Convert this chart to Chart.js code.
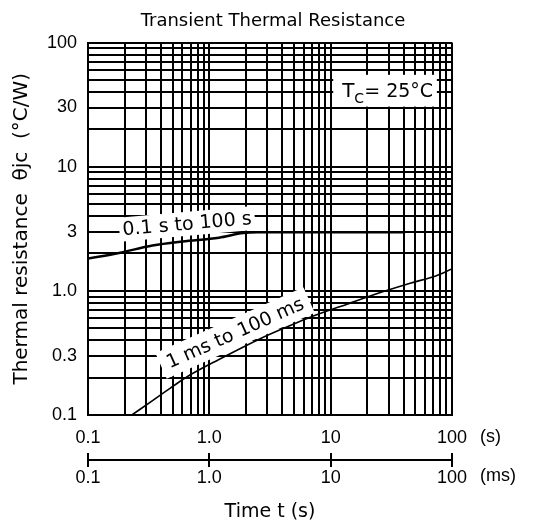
<!DOCTYPE html>
<html>
<head>
<meta charset="utf-8">
<script src="https://cdn.jsdelivr.net/npm/chart.js@4/dist/chart.umd.min.js"></script>
<style>
  html, body { margin: 0; padding: 0; background: #ffffff; }
  #wrap { width: 546px; height: 531px; position: relative; }
</style>
</head>
<body>
<div id="wrap"><canvas id="c" width="546" height="531"></canvas></div>
<script>
// ---- data ----
const longPulseTime = [0.1, 0.18, 0.34, 0.6, 1.2, 1.9, 2.5, 40];          // s
const longPulseZth  = [1.82, 2.02, 2.32, 2.5, 2.68, 2.92, 2.96, 2.96];     // °C/W
const shortPulseTime = [0.23, 0.345, 0.474, 0.671, 1.2, 2.6, 4.1, 6.4, 14.4, 27.2, 45.2, 70.3, 100]; // ms
const shortPulseZth  = [0.1, 0.132, 0.164, 0.206, 0.28, 0.41, 0.5, 0.6, 0.796, 0.987, 1.154, 1.30, 1.5];

const xLabelValues = [0.1, 1, 10, 100];
const xTickLabels  = ['0.1', '1.0', '10', '100'];
const x2TickLabels = ['0.1', '1.0', '10', '100'];
const yLabelValues = [0.1, 0.3, 1, 3, 10, 30, 100];
const yTickLabels  = ['0.1', '0.3', '1.0', '3', '10', '30', '100'];

const titleText = 'Transient Thermal Resistance';
const xTitleText = 'Time t (s)';
const yTitleText = 'Thermal resistance  θjc  (°C/W)';
const longLabelText = '0.1 s to 100 s';
const shortLabelText = '1 ms to 100 ms';

// log grid positions (1..9 per decade)
function logGrid(minExp, maxExp) {
  const out = [];
  for (let e = minExp; e < maxExp; e++) {
    for (let m = 1; m <= 9; m++) out.push(+(m * Math.pow(10, e)).toPrecision(3));
  }
  out.push(Math.pow(10, maxExp));
  return out;
}
const xGrid = logGrid(-1, 2);
const yGrid = logGrid(-1, 2);

function labelFor(values, labels) {
  return function (v) {
    for (let i = 0; i < values.length; i++) {
      if (Math.abs(values[i] - v) / values[i] < 1e-6) return labels[i];
    }
    return '';
  };
}

const tickFamily = '"Liberation Sans"';
const tickFont = { family: 'Liberation Sans', size: 18 };
const txtFont = 'DejaVu Sans';

const overlayPlugin = {
  id: 'overlay',
  afterDatasetsDraw(chart) {
    const { ctx, scales } = chart;
    const xs = scales.x, ys = scales.y;
    ctx.save();
    function rotLabel(t, z, text, deg, w, h) {
      const cx = xs.getPixelForValue(t), cy = ys.getPixelForValue(z);
      ctx.save();
      ctx.translate(cx, cy);
      ctx.rotate(deg * Math.PI / 180);
      ctx.fillStyle = '#ffffff';
      ctx.fillRect(-w / 2, -h / 2, w, h);
      ctx.fillStyle = '#000000';
      ctx.font = '19px "' + txtFont + '"';
      ctx.textAlign = 'center';
      ctx.textBaseline = 'middle';
      ctx.fillText(text, 0, 1);
      ctx.restore();
    }
    rotLabel(0.655, 3.47, longLabelText, -5, 136, 24);
    rotLabel(1.63, 0.458, shortLabelText, -24, 162, 28);

    // Tc box
    const bx0 = xs.getPixelForValue(10.5), bx1 = xs.getPixelForValue(75);
    const by0 = ys.getPixelForValue(55), by1 = ys.getPixelForValue(30.5);
    ctx.fillStyle = '#ffffff';
    ctx.fillRect(bx0, by0, bx1 - bx0, by1 - by0);
    ctx.fillStyle = '#000000';
    ctx.textAlign = 'left';
    ctx.textBaseline = 'alphabetic';
    ctx.font = '20px "' + txtFont + '"';
    ctx.fillText('T', bx0 + 9, by0 + 22);
    ctx.font = '14px "' + txtFont + '"';
    ctx.fillText('C', bx0 + 21, by0 + 28);
    ctx.font = '19px "' + txtFont + '"';
    ctx.fillText('= 25°C', bx0 + 31, by0 + 22);
    ctx.restore();
  },
  afterDraw(chart) {
    const { ctx, scales } = chart;
    const xs = scales.x, x2 = scales.x2;
    ctx.save();
    ctx.strokeStyle = '#000000';
    ctx.lineWidth = 2;
    xLabelValues.forEach(v => {
      const px = Math.round(x2.getPixelForValue(v));
      ctx.beginPath();
      ctx.moveTo(px, x2.top - 7);
      ctx.lineTo(px, x2.top);
      ctx.stroke();
    });
    ctx.fillStyle = '#000000';
    ctx.font = '18px ' + tickFamily;
    ctx.textAlign = 'left';
    ctx.textBaseline = 'middle';
    ctx.fillText('(s)', xs.right + 28, 437);
    ctx.fillText('(ms)', xs.right + 28, 476);
    ctx.restore();
  }
};

new Chart(document.getElementById('c'), {
  type: 'line',
  data: {
    datasets: [
      {
        label: longLabelText,
        data: longPulseTime.map((t, i) => ({ x: t, y: longPulseZth[i] })),
        borderColor: '#000000',
        borderWidth: 2.5,
        pointRadius: 0,
        cubicInterpolationMode: 'monotone',
        fill: false
      },
      {
        label: shortLabelText,
        data: shortPulseTime.map((t, i) => ({ x: t, y: shortPulseZth[i] })),
        borderColor: '#000000',
        borderWidth: 1.6,
        pointRadius: 0,
        cubicInterpolationMode: 'monotone',
        fill: false
      }
    ]
  },
  options: {
    responsive: false,
    animation: false,
    devicePixelRatio: 1,
    layout: { padding: 0 },
    plugins: {
      legend: { display: false },
      tooltip: { enabled: false },
      title: {
        display: true,
        text: titleText,
        color: '#000000',
        font: { family: txtFont, size: 18, weight: 'normal' },
        padding: { top: 11, bottom: 10 }
      }
    },
    scales: {
      x: {
        type: 'logarithmic',
        position: 'bottom',
        weight: 0,
        min: 0.1,
        max: 100,
        afterBuildTicks: s => { s.ticks = xGrid.map(v => ({ value: v })); },
        afterFit: s => { s.height = 45; },
        ticks: {
          autoSkip: false,
          maxRotation: 0,
          padding: 12,
          color: '#000000',
          font: tickFont,
          callback: labelFor(xLabelValues, xTickLabels)
        },
        grid: { color: '#000000', lineWidth: 2, drawTicks: false },
        border: { color: '#000000', width: 2 }
      },
      x2: {
        type: 'logarithmic',
        position: 'bottom',
        weight: 1,
        min: 0.1,
        max: 100,
        afterBuildTicks: s => { s.ticks = xLabelValues.map(v => ({ value: v })); },
        afterFit: s => { s.height = 71; },
        ticks: {
          autoSkip: false,
          maxRotation: 0,
          padding: 0,
          color: '#000000',
          font: tickFont,
          callback: labelFor(xLabelValues, x2TickLabels)
        },
        grid: { color: '#000000', lineWidth: 2, drawOnChartArea: false, drawTicks: true, tickLength: 7 },
        border: { color: '#000000', width: 2 },
        title: {
          display: true,
          text: xTitleText,
          color: '#000000',
          font: { family: txtFont, size: 19 },
          padding: { top: 0, bottom: 8 }
        }
      },
      y: {
        type: 'logarithmic',
        position: 'left',
        min: 0.1,
        max: 100,
        afterBuildTicks: s => { s.ticks = yGrid.map(v => ({ value: v })); },
        afterFit: s => { s.width = 88; },
        ticks: {
          autoSkip: false,
          padding: 11,
          color: '#000000',
          font: tickFont,
          callback: labelFor(yLabelValues, yTickLabels)
        },
        grid: { color: '#000000', lineWidth: 2, drawTicks: false },
        border: { color: '#000000', width: 2 },
        title: {
          display: true,
          text: yTitleText,
          color: '#000000',
          font: { family: txtFont, size: 20 },
          padding: { top: 10, bottom: 0 }
        }
      },
      yRight: {
        type: 'linear',
        position: 'right',
        display: true,
        grid: { display: false, drawOnChartArea: false, drawTicks: false },
        border: { display: false },
        ticks: { display: false },
        afterFit: s => { s.width = 94; }
      }
    }
  },
  plugins: [overlayPlugin]
});
</script>
</body>
</html>
